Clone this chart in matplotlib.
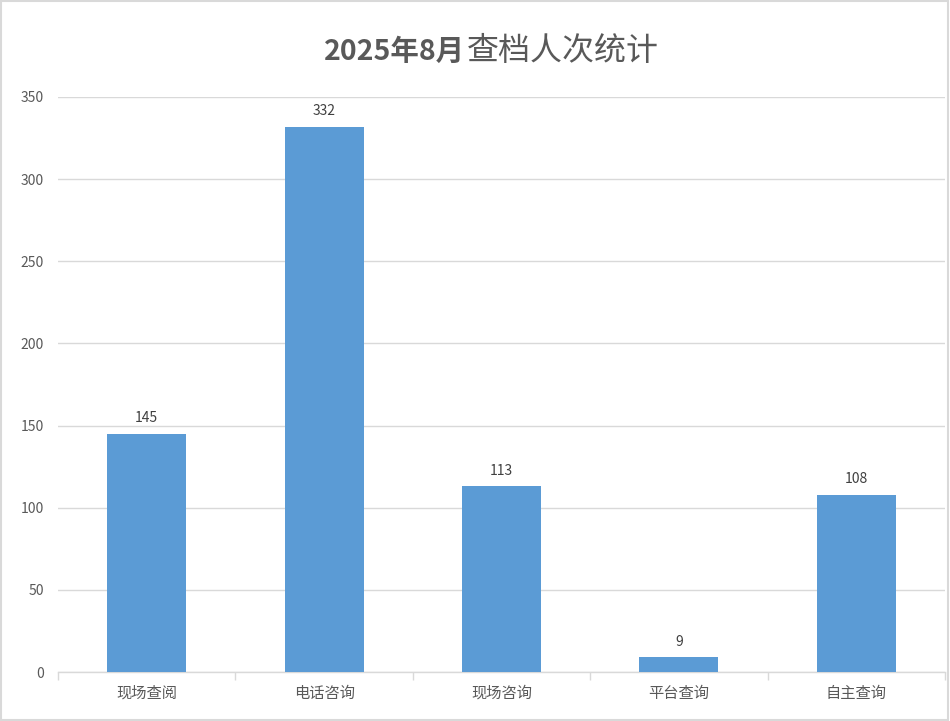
import matplotlib
matplotlib.use("Agg")
import matplotlib.pyplot as plt
from matplotlib.patches import Rectangle

plt.rcParams['font.family'] = ['Noto Sans CJK SC', 'DejaVu Sans']

title_part1 = "2025年8月"
title_part2 = "查档人次统计"
categories = ["现场查阅", "电话咨询", "现场咨询", "平台查询", "自主查询"]
values = [145, 332, 113, 9, 108]
yticks = [0, 50, 100, 150, 200, 250, 300, 350]

bar_color = "#5B9BD5"
text_color = "#595959"
grid_color = "#D9D9D9"

fig = plt.figure(figsize=(9.5, 7.21), dpi=100)
ax = fig.add_axes([58/950, 1-672/721, (945-58)/950, (672-97)/721])

x = list(range(len(categories)))
bars = ax.bar(x, values, width=0.445, color=bar_color, zorder=3)
for xi, v in zip(x, values):
    ax.annotate(str(v), (xi, v), xytext=(0, 6), textcoords="offset points",
                ha="center", va="bottom", fontsize=10, color="#404040")

ax.set_xlim(-0.5, len(categories) - 0.5)
ax.set_ylim(0, 350)
ax.set_yticks(yticks)
ax.set_yticklabels([str(t) for t in yticks], fontsize=10, color=text_color)
ax.yaxis.grid(True, color=grid_color, linewidth=1, zorder=0)
ax.tick_params(axis='y', length=0, pad=10)

ax.set_xticks(x)
ax.set_xticklabels(categories, fontsize=11, color=text_color)
ax.tick_params(axis='x', length=0, pad=9)
ax.set_xticks([i - 0.5 for i in range(len(categories) + 1)], minor=True)
ax.tick_params(axis='x', which='minor', length=6, color=grid_color, width=1, direction='out')

for s in ['top', 'right', 'left']:
    ax.spines[s].set_visible(False)
ax.spines['bottom'].set_color(grid_color)
ax.spines['bottom'].set_linewidth(1)

split_x = 465/950
ty = 1-60/721
fig.text(split_x, ty, title_part1, ha="right", va="baseline", fontsize=20.5,
         fontweight="bold", color=text_color)
fig.text(split_x + 2/950, ty, title_part2, ha="left", va="baseline", fontsize=23,
         fontweight="normal", color=text_color)

fig.patches.append(Rectangle((0.001, 0.001), 0.997, 0.997, transform=fig.transFigure,
                             fill=False, edgecolor="#D9D9D9", linewidth=1.5))

fig.savefig("out.png", dpi=100, facecolor="white")
